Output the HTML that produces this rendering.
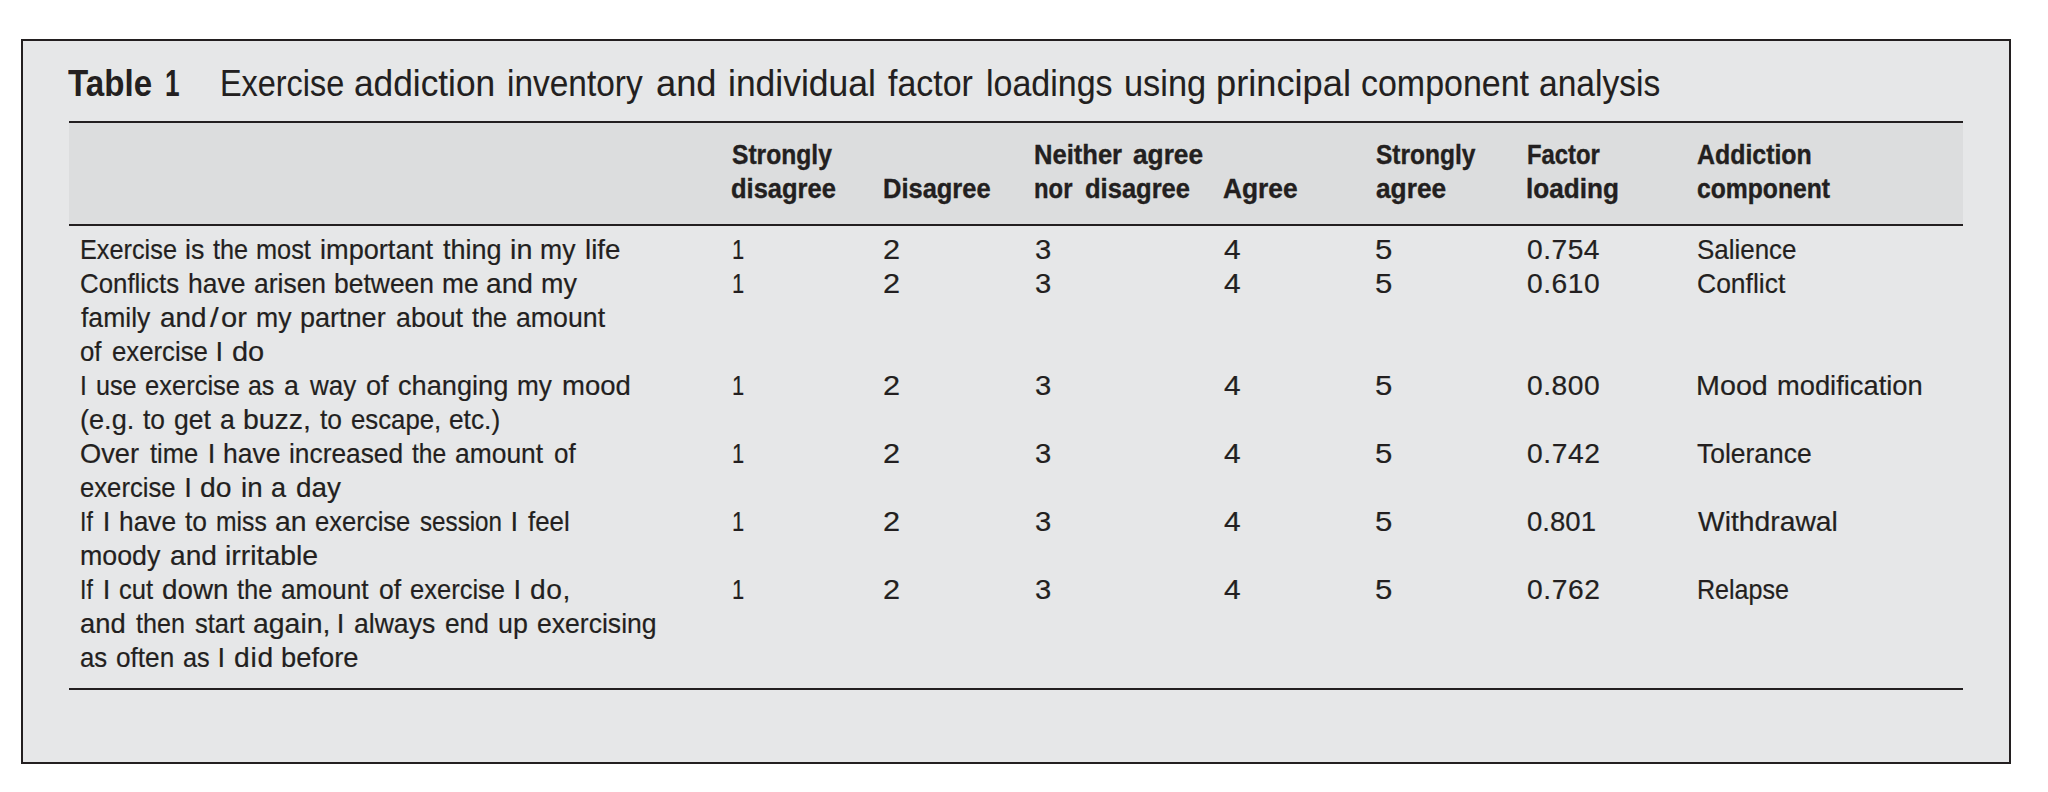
<!DOCTYPE html>
<html lang="en">
<head>
<meta charset="utf-8">
<title>Table 1 Exercise addiction inventory</title>
<style>
html,body{margin:0;padding:0;background:#fff;}
body{width:2048px;height:792px;position:relative;overflow:hidden;font-family:"Liberation Sans",sans-serif;color:#231f20;}
.box{position:absolute;left:21px;top:39px;width:1986px;height:721px;border:2px solid #231f20;background:#e6e7e8;}
.band{position:absolute;left:69px;top:122px;width:1894px;height:102.5px;background:#dcddde;}
.rule{position:absolute;left:69px;width:1894px;height:2.4px;background:#231f20;}
.ln{position:absolute;left:0;white-space:pre;line-height:1;height:1em;width:2048px;}
.ln span{position:absolute;top:0;transform-origin:0 0;white-space:pre;}
.b{font-weight:bold;}
.title{font-size:37.4px;-webkit-text-stroke:0.1px #231f20;}
.title.b{-webkit-text-stroke:0;}
.head{font-size:28.4px;-webkit-text-stroke:0.4px #231f20;}
.cell{font-size:27.4px;-webkit-text-stroke:0.2px #231f20;}
</style>
</head>
<body>
<div class="box"></div>
<div class="band"></div>
<div class="rule" style="top:121.1px"></div>
<div class="rule" style="top:223.6px;height:2.2px"></div>
<div class="rule" style="top:688.1px;height:2.4px"></div>
<div class="caption" role="heading" aria-level="1">
<div class="ln title b" style="top:65px"><span style="left:67.51px;transform:scaleX(0.886)">Table</span> <span style="left:164.79px;transform:scaleX(0.700)">1</span></div>
<div class="ln title" style="top:65px"><span style="left:219.84px;transform:scaleX(0.866)">Exercise</span> <span style="left:353.98px;transform:scaleX(0.943)">addiction</span> <span style="left:507.05px;transform:scaleX(0.894)">inventory</span> <span style="left:656.44px;transform:scaleX(0.970)">and</span> <span style="left:727.67px;transform:scaleX(0.948)">individual</span> <span style="left:888.31px;transform:scaleX(0.907)">factor</span> <span style="left:986px;transform:scaleX(0.909)">loadings</span> <span style="left:1124.2px;transform:scaleX(0.919)">using</span> <span style="left:1216.37px;transform:scaleX(0.969)">principal</span> <span style="left:1360.77px;transform:scaleX(0.908)">component</span> <span style="left:1538.95px;transform:scaleX(0.897)">analysis</span></div>
</div>
<div class="tbl" role="table">
<div class="hdr" role="row">
<div role="columnheader"></div>
<div role="columnheader"><div class="ln head b" style="top:140px"><span style="left:731.78px;transform:scaleX(0.867)">Strongly</span></div><div class="ln head b" style="top:174px"><span style="left:731.48px;transform:scaleX(0.898)">disagree</span></div></div>
<div role="columnheader"><div class="ln head b" style="top:174px"><span style="left:882.53px;transform:scaleX(0.897)">Disagree</span></div></div>
<div role="columnheader"><div class="ln head b" style="top:140px"><span style="left:1033.72px;transform:scaleX(0.900)">Neither</span> <span style="left:1133.2px;transform:scaleX(0.925)">agree</span></div><div class="ln head b" style="top:174px"><span style="left:1033.54px;transform:scaleX(0.840)">nor</span> <span style="left:1084.58px;transform:scaleX(0.899)">disagree</span></div></div>
<div role="columnheader"><div class="ln head b" style="top:174px"><span style="left:1223.33px;transform:scaleX(0.928)">Agree</span></div></div>
<div role="columnheader"><div class="ln head b" style="top:140px"><span style="left:1375.68px;transform:scaleX(0.863)">Strongly</span></div><div class="ln head b" style="top:174px"><span style="left:1375.85px;transform:scaleX(0.926)">agree</span></div></div>
<div role="columnheader"><div class="ln head b" style="top:140px"><span style="left:1526.62px;transform:scaleX(0.840)">Factor</span></div><div class="ln head b" style="top:174px"><span style="left:1526.36px;transform:scaleX(0.920)">loading</span></div></div>
<div role="columnheader"><div class="ln head b" style="top:140px"><span style="left:1697.46px;transform:scaleX(0.877)">Addiction</span></div><div class="ln head b" style="top:174px"><span style="left:1697.43px;transform:scaleX(0.870)">component</span></div></div>
</div>
<div class="row" role="row">
<div role="cell"><div class="ln cell" style="top:236px"><span style="left:79.66px;transform:scaleX(0.923)">Exercise</span> <span style="left:184.98px;transform:scaleX(0.979)">is</span> <span style="left:213.28px;transform:scaleX(0.921)">the</span> <span style="left:255.94px;transform:scaleX(0.925)">most</span> <span style="left:320.36px;transform:scaleX(0.991)">important</span> <span style="left:443.16px;transform:scaleX(0.986)">thing</span> <span style="left:510.06px;transform:scaleX(1.050)">in</span> <span style="left:540.06px;transform:scaleX(0.971)">my</span> <span style="left:585.41px;transform:scaleX(1.011)">life</span></div></div>
<div role="cell"><div class="ln cell" style="top:236px"><span style="left:732.18px;transform:scaleX(0.800)">1</span></div></div>
<div role="cell"><div class="ln cell" style="top:236px"><span style="left:883.23px;transform:scaleX(1.122)">2</span></div></div>
<div role="cell"><div class="ln cell" style="top:236px"><span style="left:1034.89px;transform:scaleX(1.067)">3</span></div></div>
<div role="cell"><div class="ln cell" style="top:236px"><span style="left:1224.3px;transform:scaleX(1.090)">4</span></div></div>
<div role="cell"><div class="ln cell" style="top:236px"><span style="left:1375.48px;transform:scaleX(1.140)">5</span></div></div>
<div role="cell"><div class="ln cell" style="top:236px"><span style="left:1526.78px;transform:scaleX(1.030);letter-spacing:0.46px">0.754</span></div></div>
<div role="cell"><div class="ln cell" style="top:236px"><span style="left:1697.16px;transform:scaleX(0.947)">Salience</span></div></div>
</div>
<div class="row" role="row">
<div role="cell"><div class="ln cell" style="top:270px"><span style="left:80.43px;transform:scaleX(0.943)">Conflicts</span> <span style="left:187.83px;transform:scaleX(0.967)">have</span> <span style="left:254.05px;transform:scaleX(0.966)">arisen</span> <span style="left:333.51px;transform:scaleX(0.966)">between</span> <span style="left:441.88px;transform:scaleX(0.959)">me</span> <span style="left:486.28px;transform:scaleX(1.027)">and</span> <span style="left:540.64px;transform:scaleX(0.982)">my</span></div>
<div class="ln cell" style="top:304px"><span style="left:81.39px;transform:scaleX(0.969)">family</span> <span style="left:160.49px;transform:scaleX(1.015)">and</span><span style="left:210.06px;transform:scaleX(1.140)">/</span><span style="left:221.46px;transform:scaleX(1.063)">or</span> <span style="left:255.86px;transform:scaleX(0.971)">my</span> <span style="left:300.38px;transform:scaleX(0.987)">partner</span> <span style="left:395.53px;transform:scaleX(0.978)">about</span> <span style="left:472.48px;transform:scaleX(0.924)">the</span> <span style="left:515.64px;transform:scaleX(0.975)">amount</span></div>
<div class="ln cell" style="top:338px"><span style="left:80px;transform:scaleX(0.942)">of</span> <span style="left:112.3px;transform:scaleX(0.940)">exercise</span> <span style="left:215.61px;transform:scaleX(1.000)">I</span> <span style="left:232.26px;transform:scaleX(1.058)">do</span></div></div>
<div role="cell"><div class="ln cell" style="top:270px"><span style="left:732.18px;transform:scaleX(0.800)">1</span></div></div>
<div role="cell"><div class="ln cell" style="top:270px"><span style="left:883.23px;transform:scaleX(1.122)">2</span></div></div>
<div role="cell"><div class="ln cell" style="top:270px"><span style="left:1034.89px;transform:scaleX(1.067)">3</span></div></div>
<div role="cell"><div class="ln cell" style="top:270px"><span style="left:1224.3px;transform:scaleX(1.090)">4</span></div></div>
<div role="cell"><div class="ln cell" style="top:270px"><span style="left:1375.48px;transform:scaleX(1.140)">5</span></div></div>
<div role="cell"><div class="ln cell" style="top:270px"><span style="left:1526.78px;transform:scaleX(1.030);letter-spacing:0.53px">0.610</span></div></div>
<div role="cell"><div class="ln cell" style="top:270px"><span style="left:1697.2px;transform:scaleX(0.967)">Conflict</span></div></div>
</div>
<div class="row" role="row">
<div role="cell"><div class="ln cell" style="top:372px"><span style="left:80px;transform:scaleX(0.900)">I</span> <span style="left:95.51px;transform:scaleX(0.919)">use</span> <span style="left:144.51px;transform:scaleX(0.932)">exercise</span> <span style="left:248.22px;transform:scaleX(0.909)">as</span> <span style="left:283.54px;transform:scaleX(0.974)">a</span> <span style="left:309.62px;transform:scaleX(0.947)">way</span> <span style="left:366.25px;transform:scaleX(0.984)">of</span> <span style="left:398.44px;transform:scaleX(0.992)">changing</span> <span style="left:517.19px;transform:scaleX(0.954)">my</span> <span style="left:562px;transform:scaleX(1.004)">mood</span></div>
<div class="ln cell" style="top:406px"><span style="left:80.13px;transform:scaleX(0.990)">(e.g.</span> <span style="left:143.47px;transform:scaleX(0.963)">to</span> <span style="left:173.77px;transform:scaleX(0.971)">get</span> <span style="left:219.74px;transform:scaleX(0.974)">a</span> <span style="left:243.49px;transform:scaleX(1.038)">buzz,</span> <span style="left:320.17px;transform:scaleX(0.963)">to</span> <span style="left:350.7px;transform:scaleX(0.940)">escape,</span> <span style="left:448.87px;transform:scaleX(0.960)">etc.)</span></div></div>
<div role="cell"><div class="ln cell" style="top:372px"><span style="left:732.18px;transform:scaleX(0.800)">1</span></div></div>
<div role="cell"><div class="ln cell" style="top:372px"><span style="left:883.23px;transform:scaleX(1.122)">2</span></div></div>
<div role="cell"><div class="ln cell" style="top:372px"><span style="left:1034.89px;transform:scaleX(1.067)">3</span></div></div>
<div role="cell"><div class="ln cell" style="top:372px"><span style="left:1224.3px;transform:scaleX(1.090)">4</span></div></div>
<div role="cell"><div class="ln cell" style="top:372px"><span style="left:1375.48px;transform:scaleX(1.140)">5</span></div></div>
<div role="cell"><div class="ln cell" style="top:372px"><span style="left:1526.78px;transform:scaleX(1.030);letter-spacing:0.53px">0.800</span></div></div>
<div role="cell"><div class="ln cell" style="top:372px"><span style="left:1696.18px;transform:scaleX(1.048)">Mood</span> <span style="left:1776.52px;transform:scaleX(0.997)">modification</span></div></div>
</div>
<div class="row" role="row">
<div role="cell"><div class="ln cell" style="top:440px"><span style="left:80.23px;transform:scaleX(0.994)">Over</span> <span style="left:150.28px;transform:scaleX(0.931)">time</span> <span style="left:207.66px;transform:scaleX(1.000)">I</span> <span style="left:223.03px;transform:scaleX(0.967)">have</span> <span style="left:288.71px;transform:scaleX(0.961)">increased</span> <span style="left:412.49px;transform:scaleX(0.899)">the</span> <span style="left:454.95px;transform:scaleX(0.965)">amount</span> <span style="left:553.79px;transform:scaleX(0.947)">of</span></div>
<div class="ln cell" style="top:474px"><span style="left:80.4px;transform:scaleX(0.937)">exercise</span> <span style="left:184.21px;transform:scaleX(1.000)">I</span> <span style="left:200.09px;transform:scaleX(1.033)">do</span> <span style="left:240.62px;transform:scaleX(1.011)">in</span> <span style="left:271.02px;transform:scaleX(0.988)">a</span> <span style="left:295.91px;transform:scaleX(1.017)">day</span></div></div>
<div role="cell"><div class="ln cell" style="top:440px"><span style="left:732.18px;transform:scaleX(0.800)">1</span></div></div>
<div role="cell"><div class="ln cell" style="top:440px"><span style="left:883.23px;transform:scaleX(1.122)">2</span></div></div>
<div role="cell"><div class="ln cell" style="top:440px"><span style="left:1034.89px;transform:scaleX(1.067)">3</span></div></div>
<div role="cell"><div class="ln cell" style="top:440px"><span style="left:1224.3px;transform:scaleX(1.090)">4</span></div></div>
<div role="cell"><div class="ln cell" style="top:440px"><span style="left:1375.48px;transform:scaleX(1.140)">5</span></div></div>
<div role="cell"><div class="ln cell" style="top:440px"><span style="left:1526.78px;transform:scaleX(1.030);letter-spacing:0.58px">0.742</span></div></div>
<div role="cell"><div class="ln cell" style="top:440px"><span style="left:1697.13px;transform:scaleX(0.965)">Tolerance</span></div></div>
</div>
<div class="row" role="row">
<div role="cell"><div class="ln cell" style="top:508px"><span style="left:80.44px;transform:scaleX(0.845)">If</span> <span style="left:102.81px;transform:scaleX(1.000)">I</span> <span style="left:118.74px;transform:scaleX(0.961)">have</span> <span style="left:185.37px;transform:scaleX(0.963)">to</span> <span style="left:215.88px;transform:scaleX(0.901)">miss</span> <span style="left:275.27px;transform:scaleX(1.034)">an</span> <span style="left:315px;transform:scaleX(0.935)">exercise</span> <span style="left:419.99px;transform:scaleX(0.883)">session</span> <span style="left:510.61px;transform:scaleX(1.000)">I</span> <span style="left:528.2px;transform:scaleX(0.943)">feel</span></div>
<div class="ln cell" style="top:542px"><span style="left:79.85px;transform:scaleX(0.978)">moody</span> <span style="left:169.88px;transform:scaleX(1.027)">and</span> <span style="left:224.98px;transform:scaleX(1.036)">irritable</span></div></div>
<div role="cell"><div class="ln cell" style="top:508px"><span style="left:732.18px;transform:scaleX(0.800)">1</span></div></div>
<div role="cell"><div class="ln cell" style="top:508px"><span style="left:883.23px;transform:scaleX(1.122)">2</span></div></div>
<div role="cell"><div class="ln cell" style="top:508px"><span style="left:1034.89px;transform:scaleX(1.067)">3</span></div></div>
<div role="cell"><div class="ln cell" style="top:508px"><span style="left:1224.3px;transform:scaleX(1.090)">4</span></div></div>
<div role="cell"><div class="ln cell" style="top:508px"><span style="left:1375.48px;transform:scaleX(1.140)">5</span></div></div>
<div role="cell"><div class="ln cell" style="top:508px"><span style="left:1526.81px;transform:scaleX(1.006)">0.801</span></div></div>
<div role="cell"><div class="ln cell" style="top:508px"><span style="left:1698.27px;transform:scaleX(1.032)">Withdrawal</span></div></div>
</div>
<div class="row" role="row">
<div role="cell"><div class="ln cell" style="top:576px"><span style="left:80.44px;transform:scaleX(0.845)">If</span> <span style="left:102.81px;transform:scaleX(1.000)">I</span> <span style="left:119.31px;transform:scaleX(0.935)">cut</span> <span style="left:162.01px;transform:scaleX(1.015)">down</span> <span style="left:237.28px;transform:scaleX(0.932)">the</span> <span style="left:281.26px;transform:scaleX(0.958)">amount</span> <span style="left:378.87px;transform:scaleX(0.970)">of</span> <span style="left:410.21px;transform:scaleX(0.932)">exercise</span> <span style="left:513.51px;transform:scaleX(1.000)">I</span> <span style="left:530.2px;transform:scaleX(1.030);letter-spacing:0.59px">do,</span></div>
<div class="ln cell" style="top:610px"><span style="left:80.31px;transform:scaleX(0.999)">and</span> <span style="left:136.48px;transform:scaleX(0.916)">then</span> <span style="left:194.66px;transform:scaleX(0.931)">start</span> <span style="left:253.36px;transform:scaleX(1.037)">again,</span> <span style="left:336.86px;transform:scaleX(1.000)">I</span> <span style="left:354.44px;transform:scaleX(0.970)">always</span> <span style="left:445.38px;transform:scaleX(0.959)">end</span> <span style="left:497.61px;transform:scaleX(0.978)">up</span> <span style="left:537.06px;transform:scaleX(0.970)">exercising</span></div>
<div class="ln cell" style="top:644px"><span style="left:80.38px;transform:scaleX(0.939)">as</span> <span style="left:115.78px;transform:scaleX(0.955)">often</span> <span style="left:182.6px;transform:scaleX(0.920)">as</span> <span style="left:217.61px;transform:scaleX(1.000)">I</span> <span style="left:233.5px;transform:scaleX(1.030);letter-spacing:0.7px">did</span> <span style="left:280.76px;transform:scaleX(0.997)">before</span></div></div>
<div role="cell"><div class="ln cell" style="top:576px"><span style="left:732.18px;transform:scaleX(0.800)">1</span></div></div>
<div role="cell"><div class="ln cell" style="top:576px"><span style="left:883.23px;transform:scaleX(1.122)">2</span></div></div>
<div role="cell"><div class="ln cell" style="top:576px"><span style="left:1034.89px;transform:scaleX(1.067)">3</span></div></div>
<div role="cell"><div class="ln cell" style="top:576px"><span style="left:1224.3px;transform:scaleX(1.090)">4</span></div></div>
<div role="cell"><div class="ln cell" style="top:576px"><span style="left:1375.48px;transform:scaleX(1.140)">5</span></div></div>
<div role="cell"><div class="ln cell" style="top:576px"><span style="left:1526.78px;transform:scaleX(1.030);letter-spacing:0.58px">0.762</span></div></div>
<div role="cell"><div class="ln cell" style="top:576px"><span style="left:1696.98px;transform:scaleX(0.915)">Relapse</span></div></div>
</div>
</div>
</body>
</html>
